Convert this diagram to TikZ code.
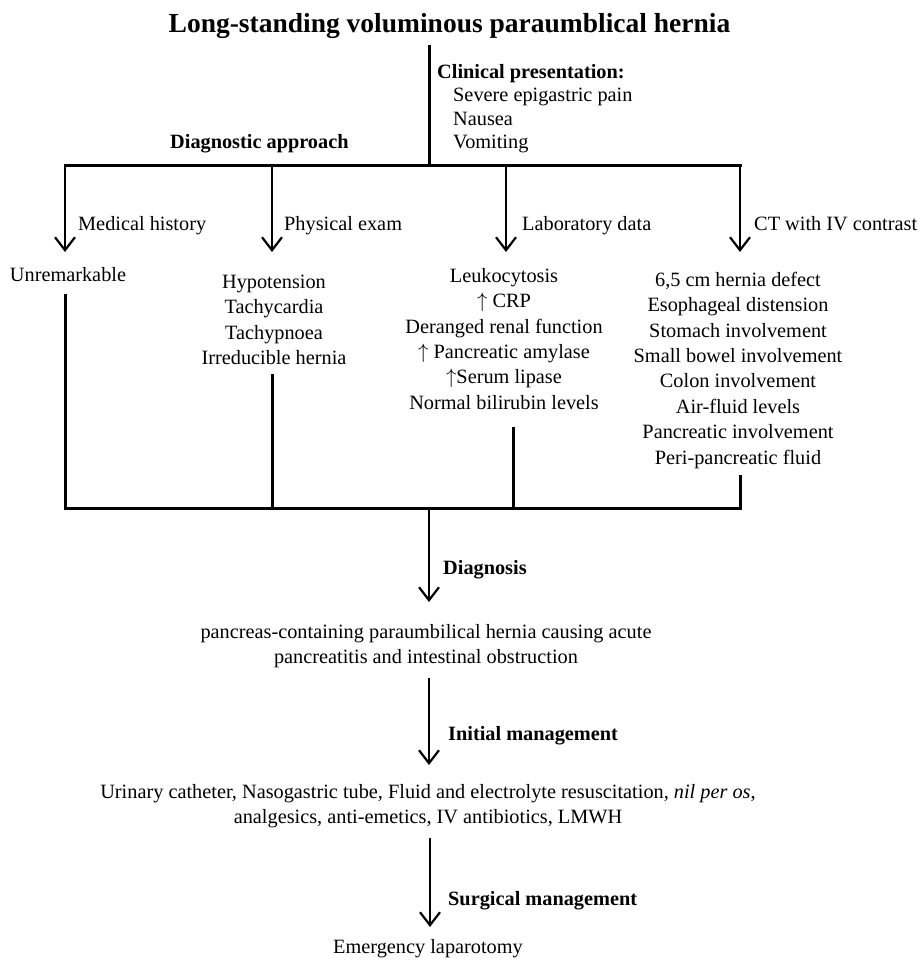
\documentclass[tikz,border=0pt]{standalone}
\usepackage{fontspec}
\setmainfont{Liberation Serif}
\usetikzlibrary{arrows.meta}
\newcommand\bodyfont{\fontsize{20.3}{25.4}\selectfont}
\newcommand\titlefont{\fontsize{27.5}{33}\selectfont\bfseries}
\newcommand\topst{\rule{0pt}{16pt}}
\begin{document}
\begin{tikzpicture}[x=1pt,y=-1pt,
  frame/.style={line width=3pt},
  arr/.style={line width=2.5pt,-{Straight Barb[length=13pt,width=20pt,line width=2.2pt]}},
  txt/.style={inner sep=0pt,font=\bodyfont},
  blk/.style={txt,align=center,anchor=north},
  lab/.style={txt,anchor=base west},
  bl/.style={txt,anchor=base west,font=\bodyfont\bfseries}]
\useasboundingbox (0,0) rectangle (922,960);

% title and clinical presentation
\node[inner sep=0pt,font=\titlefont,anchor=base] (title) at (449.5,33) {Long-standing voluminous paraumblical hernia};
\node[txt,align=left,anchor=north west,font=\fontsize{20.3}{23.5}\selectfont] (clin) at (437,62)
  {\topst\textbf{Clinical presentation:}\\\hspace*{16pt}Severe epigastric pain\\\hspace*{16pt}Nausea\\\hspace*{16pt}Vomiting};
\node[bl] (dapp) at (170,149) {Diagnostic approach};

% tree coordinates
\coordinate (t0) at (429,45);
\coordinate (t1) at (429,166);
\coordinate (hL) at (65,166);
\coordinate (hR) at (740,166);
\coordinate (h2) at (272,166);
\coordinate (h3) at (506,166);
\coordinate (e1) at (65,252);
\coordinate (e2) at (272,252);
\coordinate (e3) at (506,252);
\coordinate (e4) at (740,252);

\draw[frame] (t0) -- (t1);
\draw[frame,line cap=rect] (hL) -- (hR);
\draw[arr] (hL) -- (e1);
\draw[arr] (h2) -- (e2);
\draw[arr] (h3) -- (e3);
\draw[arr] (hR) -- (e4);

\node[lab] (l1) at (78,230) {Medical history};
\node[lab] (l2) at (284,230) {Physical exam};
\node[lab] (l3) at (522,230) {Laboratory data};
\node[lab] (l4) at (754,230) {CT with IV contrast};

% result blocks
\node[blk] (b1) at (68,265) {\topst Unremarkable};
\node[blk] (b2) at (274,272) {\topst Hypotension\\Tachycardia\\Tachypnoea\\Irreducible hernia};
\node[blk] (b3) at (504,266) {\topst Leukocytosis\\$\uparrow$ CRP\\Deranged renal function\\$\uparrow$ Pancreatic amylase\\$\uparrow$Serum lipase\\Normal bilirubin levels};
\node[blk] (b4) at (738,270) {\topst 6,5 cm hernia defect\\Esophageal distension\\Stomach involvement\\Small bowel involvement\\Colon involvement\\Air-fluid levels\\Pancreatic involvement\\Peri-pancreatic fluid};

% joining lines
\coordinate (s1) at (65,294);
\coordinate (s2) at (272,374);
\coordinate (s3) at (513,427);
\coordinate (s4) at (740,475);
\coordinate (g1) at (65,508);
\coordinate (g2) at (272,508);
\coordinate (g3) at (513,508);
\coordinate (g4) at (740,508);
\coordinate (gm) at (429,508);
\draw[frame] (s1) -- (g1);
\draw[frame] (s2) -- (g2);
\draw[frame] (s3) -- (g3);
\draw[frame] (s4) -- (g4);
\draw[frame,line cap=rect] (g1) -- (g4);

% diagnosis
\coordinate (d1) at (429,602);
\draw[arr] (gm) -- (d1);
\node[bl] (ldiag) at (443,574) {Diagnosis};
\node[blk] (diag) at (426,622) {\topst pancreas-containing paraumbilical hernia causing acute\\pancreatitis and intestinal obstruction};

% initial management
\coordinate (m0) at (429,678);
\coordinate (m1) at (429,765);
\draw[arr] (m0) -- (m1);
\node[bl] (linit) at (448,740) {Initial management};
\node[blk] (init) at (428,782) {\topst Urinary catheter, Nasogastric tube, Fluid and electrolyte resuscitation, \textit{nil per os},\\analgesics, anti-emetics, IV antibiotics, LMWH};

% surgical management
\coordinate (n0) at (430,838);
\coordinate (n1) at (430,927);
\draw[arr] (n0) -- (n1);
\node[bl] (lsurg) at (448,905) {Surgical management};
\node[blk] (surg) at (428,937) {\topst Emergency laparotomy};
\end{tikzpicture}
\end{document}
